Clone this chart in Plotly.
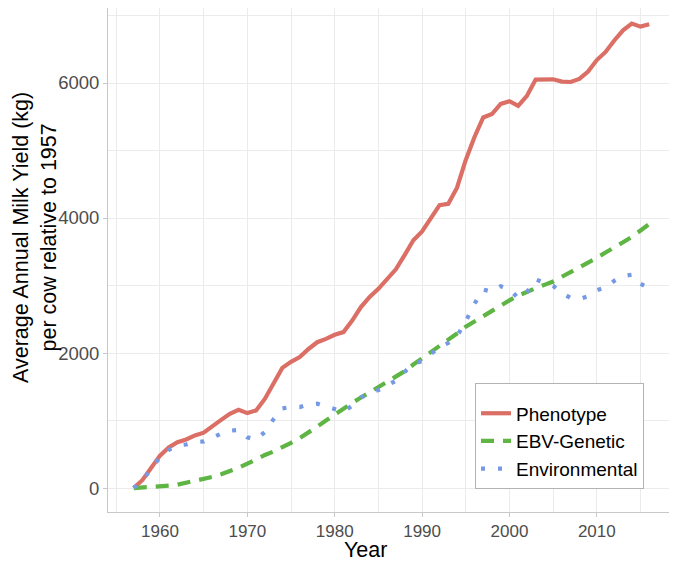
import plotly.graph_objects as go

years = list(range(1957, 2017))

phenotype = [0, 120, 300, 480, 600, 680, 720, 780, 820, 920,
             1010, 1100, 1160, 1110, 1150, 1320, 1560, 1780, 1870, 1940,
             2060, 2160, 2210, 2270, 2310, 2480, 2680, 2830, 2950, 3100,
             3240, 3450, 3670, 3800, 3990, 4190, 4210, 4450, 4860, 5200,
             5490, 5540, 5690, 5730, 5660, 5810, 6050, 6055, 6055, 6020,
             6015, 6060, 6170, 6340, 6460, 6630, 6780, 6880, 6835, 6870]

ebv_genetic = [0, 5, 15, 25, 35, 50, 75, 100, 130, 165,
               205, 250, 300, 360, 430, 490, 540, 600, 670, 740,
               820, 910, 1000, 1090, 1180, 1260, 1340, 1420, 1500, 1580,
               1650, 1730, 1830, 1920, 2010, 2100, 2190, 2290, 2390, 2470,
               2550, 2630, 2700, 2780, 2850, 2910, 2960, 3010, 3060, 3130,
               3200, 3260, 3330, 3410, 3490, 3560, 3640, 3720, 3810, 3910]

environmental = [0, 115, 285, 455, 565, 630, 645, 680, 690, 755,
                 805, 850, 860, 750, 720, 830, 1020, 1180, 1200, 1200,
                 1240, 1250, 1210, 1180, 1130, 1220, 1340, 1410, 1450, 1520,
                 1590, 1720, 1840, 1880, 1980, 2090, 2150, 2250, 2470, 2730,
                 2940, 2910, 2990, 2950, 2810, 2900, 3090, 3045, 2995, 2890,
                 2815, 2800, 2840, 2930, 2970, 3070, 3140, 3160, 3025, 2960]

x_ticks = [1960, 1970, 1980, 1990, 2000, 2010]
y_ticks = [0, 2000, 4000, 6000]

FONT = "Liberation Sans, Arial, sans-serif"

# page body has an 8px margin, so the figure is sized to fit inside it
W, H = 669, 555
L, R, T, B = 100, 2, 0, 51
PW, PH = W - L - R, H - T - B

fig = go.Figure()
fig.add_trace(go.Scatter(x=years, y=phenotype, mode="lines", name="Phenotype",
                         line=dict(color="#DB6F66", width=4.2, dash="solid")))
fig.add_trace(go.Scatter(x=years, y=ebv_genetic, mode="lines", name="EBV-Genetic",
                         line=dict(color="#5FB544", width=4.2, dash="13px,9px")))
fig.add_trace(go.Scatter(x=years, y=environmental, mode="lines", name="Environmental",
                         line=dict(color="#7699E6", width=4.2, dash="4px,13px")))

grid_col = "#EBEBEB"
fig.update_layout(
    width=W, height=H,
    margin=dict(l=L, r=R, t=T, b=B),
    paper_bgcolor="white", plot_bgcolor="white",
    font=dict(family=FONT, color="black"),
    showlegend=True,
    legend=dict(x=(467 - L) / PW, y=(PH - 481) / PH, xanchor="left", yanchor="bottom",
                bgcolor="white", bordercolor="#B3B3B3", borderwidth=1,
                font=dict(size=19, color="black", family=FONT),
                title=dict(text=" ", font=dict(size=8)),
                itemwidth=30, tracegroupgap=4),
    xaxis=dict(range=[1954.05, 2018.95], tickvals=x_ticks,
               ticktext=[str(v) for v in x_ticks], automargin=False,
               showgrid=True, gridcolor=grid_col, gridwidth=1,
               minor=dict(dtick=5, tick0=1955, showgrid=True, gridcolor=grid_col, gridwidth=1),
               zeroline=False, showline=True, mirror=True, linecolor="#C8C8C8", linewidth=1,
               ticks="outside", ticklen=4, tickcolor="#C8C8C8",
               tickfont=dict(size=17, color="#4D4D4D", family=FONT)),
    yaxis=dict(range=[-355, 7111], tickvals=y_ticks,
               ticktext=[str(v) for v in y_ticks], automargin=False,
               showgrid=True, gridcolor=grid_col, gridwidth=1,
               minor=dict(dtick=1000, tick0=1000, showgrid=True, gridcolor=grid_col, gridwidth=1),
               zeroline=False, showline=True, mirror=True, linecolor="#C8C8C8", linewidth=1,
               ticks="outside", ticklen=4, tickcolor="#C8C8C8",
               tickfont=dict(size=18.5, color="#4D4D4D", family=FONT)),
    annotations=[
        dict(text="Year", xref="paper", yref="paper",
             x=(357 - L) / PW, y=(PH - 542) / PH,
             xanchor="center", yanchor="middle", showarrow=False,
             font=dict(size=21.5, color="black", family=FONT)),
        dict(text="Average Annual Milk Yield (kg)<br>per cow relative to 1957",
             xref="paper", yref="paper",
             x=(27 - L) / PW, y=(PH - 230) / PH,
             xanchor="center", yanchor="middle", showarrow=False, textangle=-90,
             font=dict(size=21.5, color="black", family=FONT)),
    ],
)

fig.write_html("out.html")
